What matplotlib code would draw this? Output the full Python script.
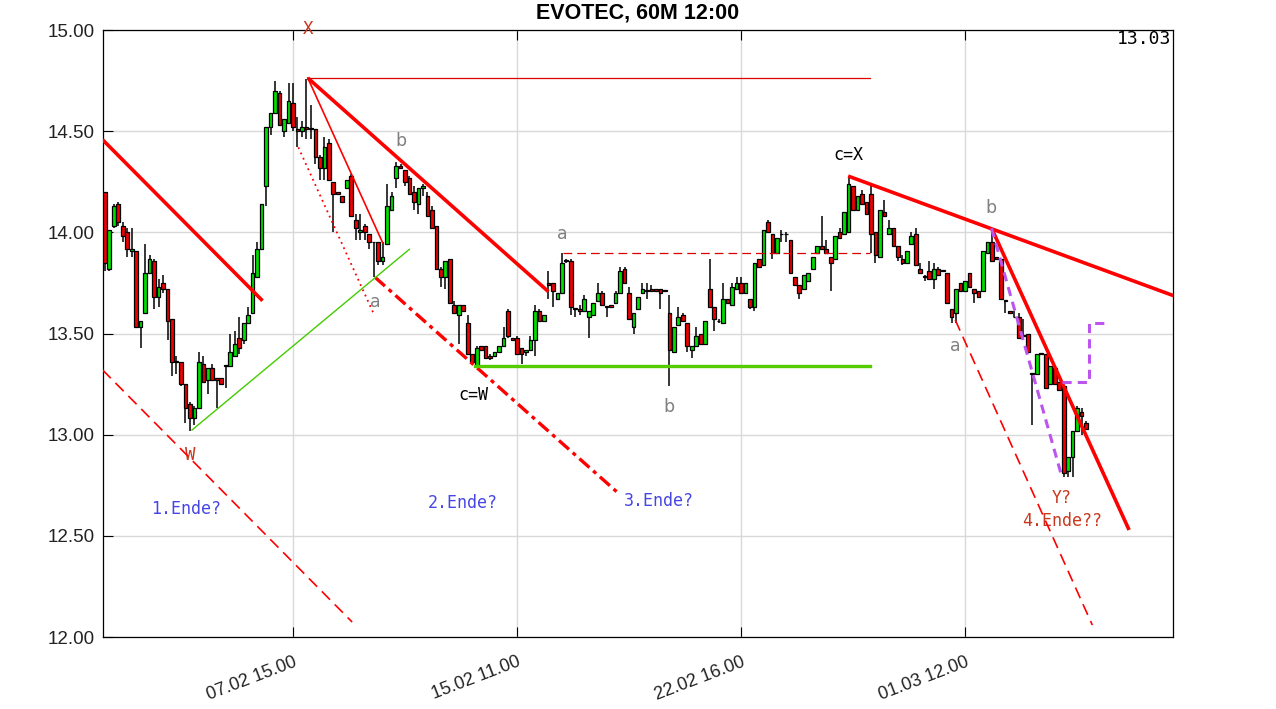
import numpy as np
import matplotlib
matplotlib.use("Agg")
import matplotlib.pyplot as plt

# hourly candles, EVOTEC
opens = [14.40, 14.20, 13.82, 14.03, 14.14, 14.03, 14.00, 13.91, 13.91, 13.53,
         13.60, 13.80, 13.86, 13.68, 13.75, 13.72, 13.57, 13.36, 13.36, 13.25,
         13.15, 13.08, 13.13, 13.35, 13.27, 13.33, 13.28, 13.28, 13.34, 13.34,
         13.39, 13.48, 13.47, 13.55, 13.60, 13.78, 13.92, 14.23, 14.52, 14.59,
         14.69, 14.50, 14.54, 14.64, 14.51, 14.50, 14.52, 14.51, 14.51, 14.37,
         14.32, 14.44, 14.25, 14.20, 14.18, 14.22, 14.28, 14.06, 14.00, 14.03,
         13.99, 13.95, 13.95, 13.86, 13.94, 14.11, 14.27, 14.33, 14.31, 14.27,
         14.20, 14.14, 14.22, 14.18, 14.11, 14.03, 13.82, 13.78, 13.87, 13.64,
         13.59, 13.64, 13.55, 13.40, 13.34, 13.44, 13.44, 13.39, 13.39, 13.41,
         13.44, 13.61, 13.48, 13.48, 13.43, 13.41, 13.42, 13.47, 13.61, 13.56,
         13.75, 13.75, 13.67, 13.70, 13.86, 13.86, 13.62, 13.62, 13.61, 13.58,
         13.59, 13.66, 13.70, 13.63, 13.64, 13.65, 13.70, 13.82, 13.70, 13.53,
         13.62, 13.70, 13.71, 13.72, 13.72, 13.72, 13.71, 13.60, 13.41, 13.54,
         13.59, 13.55, 13.42, 13.44, 13.50, 13.45, 13.72, 13.63, 13.56, 13.55,
         13.67, 13.64, 13.72, 13.75, 13.70, 13.67, 13.63, 13.87, 13.84, 14.05,
         13.99, 13.90, 13.99, 13.99, 13.96, 13.78, 13.74, 13.72, 13.76, 13.82,
         13.90, 13.93, 13.92, 13.88, 13.87, 14.00, 13.99, 14.00, 14.23, 14.11,
         14.19, 14.15, 14.19, 14.00, 13.88, 14.10, 13.99, 14.02, 13.93, 13.87,
         13.85, 13.94, 13.99, 13.82, 13.78, 13.81, 13.77, 13.82, 13.81, 13.80,
         13.62, 13.60, 13.75, 13.71, 13.80, 13.72, 13.71, 13.71, 13.90, 13.95,
         13.88, 13.87, 13.66, 13.61, 13.58, 13.58, 13.49, 13.50, 13.30, 13.30,
         13.40, 13.40, 13.25, 13.33, 13.26, 13.24, 12.82, 12.89, 13.02, 13.11,
         13.06]
highs = [14.40, 14.20, 14.01, 14.14, 14.15, 14.05, 14.02, 14.02, 13.91, 13.56,
         13.94, 13.89, 13.87, 13.77, 13.79, 13.72, 13.57, 13.39, 13.36, 13.25,
         13.16, 13.14, 13.41, 13.39, 13.33, 13.35, 13.28, 13.28, 13.34, 13.50,
         13.51, 13.58, 13.55, 13.63, 13.89, 13.95, 14.14, 14.52, 14.59, 14.75,
         14.70, 14.56, 14.74, 14.74, 14.57, 14.55, 14.76, 14.63, 14.51, 14.38,
         14.47, 14.46, 14.25, 14.20, 14.18, 14.26, 14.29, 14.09, 14.09, 14.04,
         13.99, 13.95, 13.95, 13.95, 14.24, 14.20, 14.35, 14.34, 14.31, 14.28,
         14.23, 14.22, 14.24, 14.20, 14.13, 14.03, 13.83, 13.86, 13.87, 13.66,
         13.64, 13.64, 13.59, 13.40, 13.44, 13.44, 13.44, 13.40, 13.41, 13.44,
         13.53, 13.62, 13.48, 13.49, 13.43, 13.42, 13.49, 13.64, 13.62, 13.59,
         13.81, 13.75, 13.70, 13.90, 13.87, 13.87, 13.62, 13.64, 13.69, 13.61,
         13.65, 13.75, 13.71, 13.63, 13.64, 13.71, 13.83, 13.83, 13.73, 13.60,
         13.68, 13.75, 13.75, 13.74, 13.72, 13.72, 13.71, 13.69, 13.53, 13.63,
         13.60, 13.55, 13.44, 13.53, 13.50, 13.56, 13.87, 13.63, 13.57, 13.75,
         13.67, 13.75, 13.78, 13.78, 13.75, 13.67, 13.85, 13.87, 14.01, 14.06,
         13.99, 13.97, 14.01, 14.00, 13.96, 13.78, 13.74, 13.79, 13.80, 13.88,
         13.93, 14.08, 13.96, 13.88, 13.98, 14.02, 14.10, 14.28, 14.23, 14.18,
         14.21, 14.15, 14.24, 14.00, 14.11, 14.16, 14.06, 14.02, 13.93, 13.89,
         13.91, 14.00, 14.02, 13.85, 13.79, 13.86, 13.85, 13.83, 13.81, 13.80,
         13.62, 13.72, 13.75, 13.76, 13.80, 13.72, 13.71, 13.91, 13.95, 14.02,
         13.88, 13.87, 13.66, 13.61, 13.61, 13.60, 13.57, 13.50, 13.30, 13.40,
         13.40, 13.40, 13.34, 13.33, 13.26, 13.24, 12.89, 13.02, 13.14, 13.13,
         13.07]
lows = [14.32, 13.81, 13.81, 14.02, 14.03, 13.95, 13.88, 13.88, 13.53, 13.43,
        13.60, 13.80, 13.62, 13.63, 13.70, 13.47, 13.29, 13.30, 13.24, 13.06,
        13.02, 13.05, 13.13, 13.26, 13.20, 13.27, 13.13, 13.25, 13.23, 13.34,
        13.39, 13.40, 13.45, 13.55, 13.60, 13.78, 13.92, 14.13, 14.48, 14.59,
        14.53, 14.47, 14.54, 14.50, 14.42, 14.47, 14.46, 14.46, 14.34, 14.26,
        14.26, 14.26, 14.00, 14.19, 14.15, 14.22, 14.08, 13.96, 13.96, 13.96,
        13.92, 13.78, 13.84, 13.84, 13.94, 14.11, 14.22, 14.32, 14.23, 14.19,
        14.11, 14.09, 14.18, 14.08, 14.02, 13.82, 13.73, 13.72, 13.65, 13.60,
        13.45, 13.61, 13.40, 13.36, 13.34, 13.42, 13.38, 13.37, 13.39, 13.41,
        13.44, 13.48, 13.47, 13.40, 13.35, 13.39, 13.42, 13.39, 13.56, 13.56,
        13.67, 13.63, 13.67, 13.70, 13.85, 13.59, 13.58, 13.59, 13.61, 13.48,
        13.59, 13.66, 13.64, 13.58, 13.63, 13.65, 13.70, 13.75, 13.57, 13.50,
        13.62, 13.70, 13.67, 13.71, 13.71, 13.62, 13.71, 13.24, 13.41, 13.54,
        13.56, 13.41, 13.38, 13.44, 13.45, 13.45, 13.63, 13.51, 13.55, 13.55,
        13.65, 13.64, 13.72, 13.70, 13.70, 13.62, 13.61, 13.83, 13.84, 14.00,
        13.87, 13.90, 13.95, 13.95, 13.80, 13.74, 13.67, 13.72, 13.76, 13.82,
        13.90, 13.92, 13.90, 13.71, 13.87, 13.97, 13.99, 14.00, 14.11, 14.11,
        14.14, 14.09, 13.90, 13.85, 13.88, 14.08, 13.99, 13.93, 13.86, 13.84,
        13.85, 13.94, 13.84, 13.80, 13.76, 13.77, 13.72, 13.79, 13.81, 13.65,
        13.55, 13.55, 13.71, 13.71, 13.73, 13.65, 13.68, 13.71, 13.90, 13.86,
        13.87, 13.67, 13.60, 13.60, 13.58, 13.48, 13.49, 13.41, 13.05, 13.30,
        13.40, 13.23, 13.25, 13.25, 13.22, 12.79, 12.79, 12.79, 13.02, 13.00,
        13.03]
closes = [14.32, 13.85, 14.01, 14.13, 14.05, 13.98, 13.92, 13.92, 13.53, 13.56,
          13.80, 13.87, 13.68, 13.73, 13.72, 13.56, 13.36, 13.36, 13.25, 13.13,
          13.08, 13.13, 13.36, 13.26, 13.33, 13.27, 13.27, 13.25, 13.34, 13.41,
          13.45, 13.43, 13.55, 13.59, 13.80, 13.92, 14.14, 14.52, 14.59, 14.70,
          14.53, 14.56, 14.65, 14.52, 14.50, 14.52, 14.51, 14.51, 14.37, 14.32,
          14.42, 14.26, 14.19, 14.19, 14.15, 14.26, 14.08, 14.02, 14.01, 14.00,
          13.95, 13.95, 13.86, 13.88, 14.13, 14.18, 14.33, 14.32, 14.25, 14.19,
          14.15, 14.22, 14.23, 14.08, 14.02, 13.82, 13.78, 13.86, 13.65, 13.60,
          13.64, 13.61, 13.40, 13.36, 13.43, 13.42, 13.38, 13.38, 13.41, 13.44,
          13.48, 13.49, 13.47, 13.40, 13.40, 13.42, 13.47, 13.61, 13.56, 13.59,
          13.74, 13.71, 13.70, 13.85, 13.86, 13.63, 13.62, 13.61, 13.67, 13.61,
          13.65, 13.70, 13.64, 13.63, 13.63, 13.70, 13.81, 13.75, 13.57, 13.60,
          13.68, 13.72, 13.71, 13.71, 13.71, 13.70, 13.71, 13.42, 13.53, 13.58,
          13.56, 13.44, 13.44, 13.49, 13.45, 13.56, 13.63, 13.57, 13.56, 13.67,
          13.65, 13.73, 13.75, 13.70, 13.75, 13.63, 13.85, 13.83, 14.01, 14.00,
          13.90, 13.97, 13.99, 13.99, 13.80, 13.74, 13.70, 13.79, 13.80, 13.88,
          13.93, 13.92, 13.90, 13.85, 13.98, 13.97, 14.10, 14.24, 14.11, 14.18,
          14.14, 14.09, 13.99, 13.89, 14.11, 14.08, 14.02, 13.93, 13.88, 13.85,
          13.91, 13.98, 13.84, 13.80, 13.78, 13.77, 13.82, 13.79, 13.81, 13.65,
          13.58, 13.72, 13.71, 13.76, 13.73, 13.70, 13.68, 13.91, 13.95, 13.86,
          13.87, 13.67, 13.66, 13.60, 13.58, 13.48, 13.49, 13.41, 13.30, 13.40,
          13.40, 13.23, 13.34, 13.25, 13.22, 12.81, 12.89, 13.02, 13.13, 13.09,
          13.03]

tick_pos = [43, 93, 143, 193]
tick_labels = ['07.02 15.00', '15.02 11.00', '22.02 16.00', '01.03 12.00']
y_ticks = [12.0, 12.5, 13.0, 13.5, 14.0, 14.5, 15.0]

# drawn trend lines: (x0, y0, x1, y1) in bar index / price
red_thick = [(0.5, 14.458, 36.2, 13.662), (46.3, 14.763, 100.0, 13.707),
             (166.9, 14.278, 240.0, 13.683), (199.0, 14.016, 229.6, 12.529)]
red_thin = (46.3, 14.763, 63.0, 13.949)
red_top = (46.3, 14.765, 171.8, 14.765)
red_dotted = (44.2, 14.42, 60.9, 13.603)
red_dashed = [(0.5, 13.32, 56.2, 12.074), (190.8, 13.567, 221.4, 12.059)]
red_dashdot = (61.3, 13.778, 115.3, 12.717)
red_hdash = (103.2, 13.896, 171.8, 13.896)
green_thin = (20.46, 13.023, 68.96, 13.916)
green_thick = (83.6, 13.339, 171.8, 13.339)
purple_x = [198.9, 214.6]
purple_y = [14.02, 12.792]
purple2_x = [214.6, 220.7, 220.7, 224.0]
purple2_y = [13.262, 13.262, 13.553, 13.553]

o = np.array(opens); h = np.array(highs); l = np.array(lows); c = np.array(closes)
x = np.arange(len(o))

fig = plt.figure(figsize=(12.76, 7.09), dpi=100)
ax = fig.add_axes([103/1276, 1-637/709, 1070/1276, 607/709])

ax.vlines(x, l, h, color='black', lw=1.1, zorder=2)
body_lo = np.minimum(o, c)
body_h = np.maximum(np.abs(c - o), 0.004)
cols = np.where(c > o, '#00e000', np.where(c < o, '#f00000', 'black'))
ax.bar(x, body_h, bottom=body_lo, width=0.82, color=cols, edgecolor='black',
       linewidth=0.9, zorder=3)

def seg(s, **kw):
    ax.plot([s[0], s[2]], [s[1], s[3]], **kw)

for s in red_thick:
    seg(s, color='#ff0000', lw=2.6, zorder=4, solid_capstyle='butt')
seg(red_thin, color='#ff0000', lw=1.2, zorder=4)
seg(red_top, color='#dd0000', lw=0.9, zorder=4)
seg(red_dotted, color='#ff0000', lw=1.3, ls=(0, (1, 2.2)), zorder=4)
for s in red_dashed:
    seg(s, color='#ff0000', lw=1.2, ls=(0, (7, 4)), zorder=4)
seg(red_dashdot, color='#ff0000', lw=2.4, ls=(0, (4, 1.5, 1.2, 1.5)), zorder=4)
seg(red_hdash, color='#dd0000', lw=0.9, ls=(0, (7, 4)), zorder=4)
seg(green_thin, color='#44cc00', lw=1.0, zorder=4)
seg(green_thick, color='#55cc00', lw=2.4, zorder=4)
ax.plot(purple_x, purple_y, color='#bb55ee', lw=2.2, ls=(0, (3, 2)), zorder=5)
ax.plot(purple2_x, purple2_y, color='#bb55ee', lw=2.2, ls=(0, (3, 2)), zorder=5)

# wave labels
brown = '#c8381e'
blue = '#4646e6'
gray = '#808080'
mono = 'DejaVu Sans Mono'
ax.text(46.35, 15.007, 'X', color=brown, fontsize=12.5, family=mono, ha='center', va='center', clip_on=False)
ax.text(20.0, 12.90, 'W', color=brown, fontsize=12.5, family=mono, ha='center', va='center')
ax.text(214.65, 12.687, 'Y?', color=brown, fontsize=12, family=mono, ha='center', va='center')
ax.text(214.65, 12.573, '4.Ende??', color=brown, fontsize=12, family=mono, ha='center', va='center')
for xi, yi, t in [(19.1, 12.633, '1.Ende?'), (80.9, 12.662, '2.Ende?'), (124.7, 12.672, '3.Ende?')]:
    ax.text(xi, yi, t, color=blue, fontsize=12, family=mono, ha='center', va='center')
for xi, yi, t in [(67.1, 14.451, 'b'), (61.3, 13.656, 'a'), (103.0, 13.99, 'a'),
                  (126.9, 13.137, 'b'), (198.8, 14.12, 'b'), (190.8, 13.438, 'a')]:
    ax.text(xi, yi, t, color=gray, fontsize=12.5, ha='center', va='center')
ax.text(83.2, 13.196, 'c=W', color='black', fontsize=12, family=mono, ha='center', va='center')
ax.text(166.9, 14.382, 'c=X', color='black', fontsize=12, family=mono, ha='center', va='center')
ax.text(0.998, 0.985, '13.03', transform=ax.transAxes, color='black', fontsize=13,
        family=mono, ha='right', va='center')

ax.set_xlim(0.6, 239.4)
ax.set_ylim(12.0, 15.0)
ax.set_xticks(tick_pos)
ax.set_xticklabels(tick_labels, rotation=21, ha='right', rotation_mode='anchor',
                   fontsize=13, family='Liberation Sans', color='#222222')
ax.set_yticks(y_ticks)
ax.set_yticklabels(['%.2f' % v for v in y_ticks], fontsize=13.5,
                   family='Liberation Sans', color='#222222')
ax.tick_params(axis='x', direction='in', length=7, pad=12, top=True)
ax.tick_params(axis='y', direction='in', length=7, pad=6)
ax.grid(True, color='#d9d9d9', lw=1.0, zorder=0)
ax.set_axisbelow(True)
for sp in ax.spines.values():
    sp.set_linewidth(0.9)
    sp.set_color('black')

fig.text(638/1276, 1-13/709, 'EVOTEC, 60M 12:00', ha='center', va='center',
         fontsize=15.5, fontweight='bold', family='Liberation Sans')

fig.savefig('out.png', dpi=100)
